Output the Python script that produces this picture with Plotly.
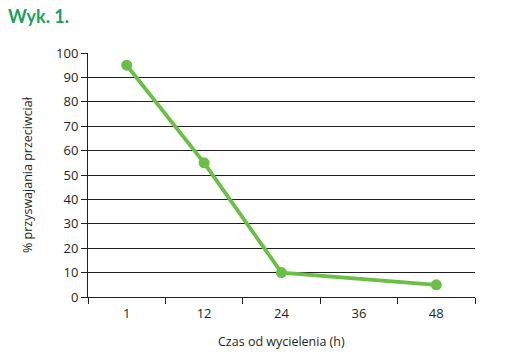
import plotly.graph_objects as go

categories = ["1", "12", "24", "36", "48"]
values = [95, 55, 10, None, 5]
y_ticks = list(range(0, 101, 10))

line_color = "#6abf45"
dark = "#231f20"
font_family = "Open Sans, Liberation Sans, sans-serif"

fig = go.Figure()
fig.add_trace(go.Scatter(
    x=categories, y=values, mode="lines+markers",
    connectgaps=True,
    line=dict(color=line_color, width=3.8),
    marker=dict(color=line_color, size=11),
    showlegend=False,
))

fig.update_layout(
    width=510, height=355,
    margin=dict(l=88, r=35, t=53, b=58),
    paper_bgcolor="white", plot_bgcolor="white",
    font=dict(family=font_family, size=12, color=dark),
    xaxis=dict(
        type="category", categoryorder="array", categoryarray=categories,
        range=[-0.5, 4.5], tickson="boundaries", ticks="outside",
        ticklen=6, tickcolor=dark, tickwidth=1, ticklabelstandoff=4,
        showline=True, linecolor=dark, linewidth=1,
        showgrid=False, zeroline=False,
        tickfont=dict(size=13, color=dark),
    ),
    yaxis=dict(
        range=[0, 100], tickvals=y_ticks, ticks="outside",
        ticklen=6, tickcolor=dark, tickwidth=1,
        showline=True, linecolor=dark, linewidth=1,
        showgrid=True, gridcolor=dark, gridwidth=1,
        zeroline=False, tickfont=dict(size=13, color=dark),
    ),
    annotations=[
        dict(text="<b>Wyk. 1.</b>", xref="paper", yref="paper",
             x=-88/387, y=1 + 53/244, xanchor="left", yanchor="top",
             xshift=6, yshift=-3, showarrow=False,
             font=dict(size=18, color="#1aa25a", family="Lato, Open Sans, sans-serif")),
        dict(text="Czas od wycielenia (h)", xref="paper", yref="paper",
             x=0.5, y=0, yshift=-44, xanchor="center", yanchor="middle",
             showarrow=False, font=dict(size=12.5, color=dark)),
        dict(text="% przyswajania przeciwciał", xref="paper", yref="paper",
             x=0, xshift=-61, y=0.5, textangle=-90, xanchor="center",
             yanchor="middle", showarrow=False,
             font=dict(size=12.5, color=dark)),
    ],
)

fig.write_html("out.html")
